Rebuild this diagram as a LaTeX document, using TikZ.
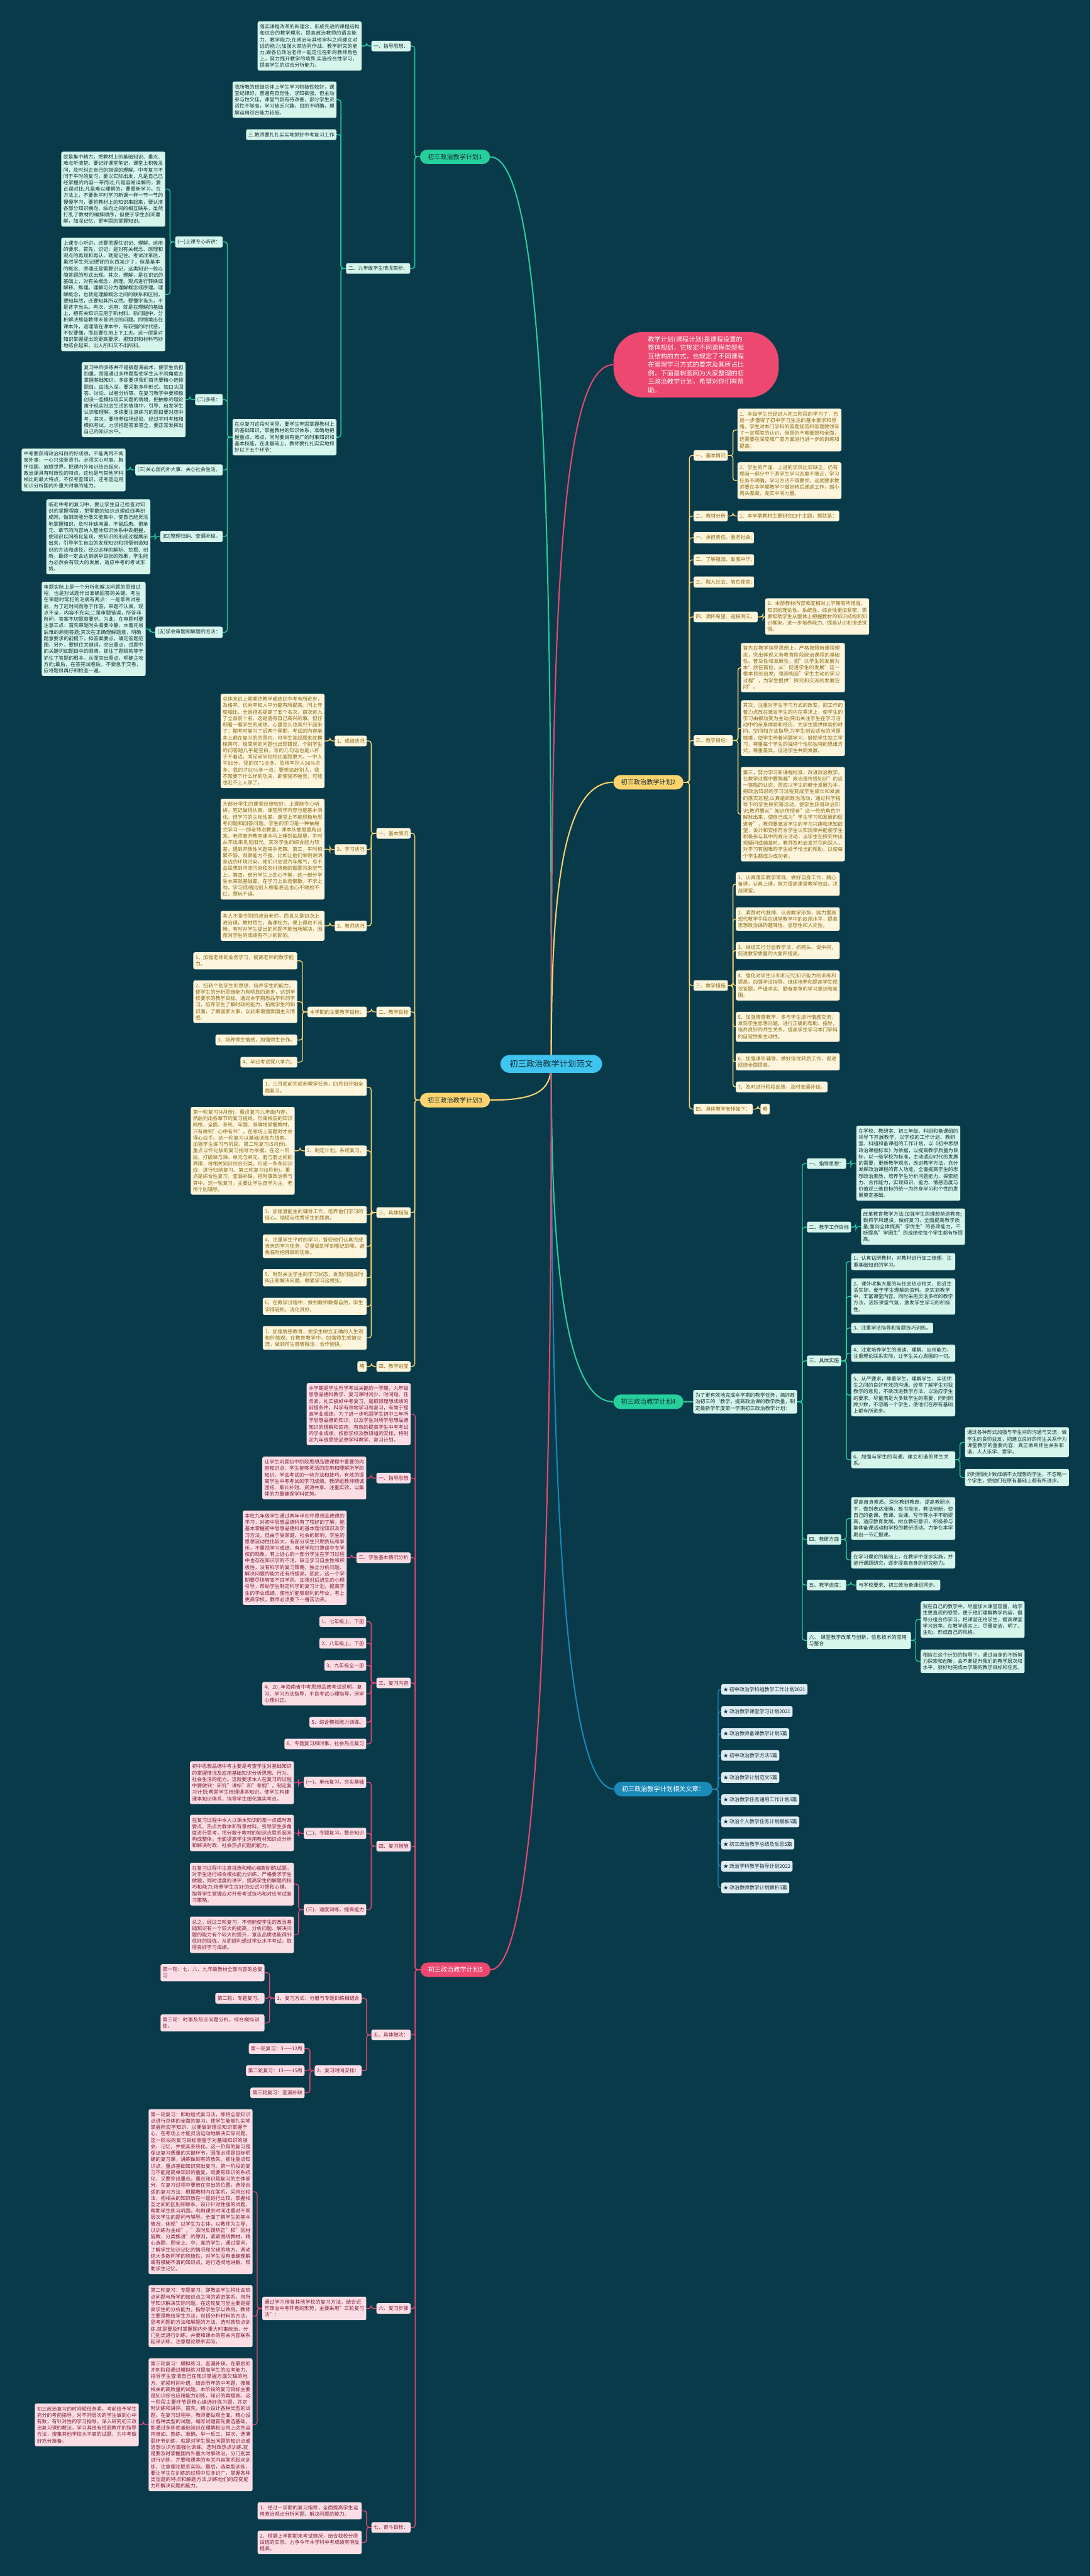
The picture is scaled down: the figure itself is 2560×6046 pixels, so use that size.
\documentclass[tikz,border=0pt]{standalone}
\usepackage{fontspec}
\setmainfont{Noto Sans CJK SC}
\XeTeXlinebreaklocale "zh"
\XeTeXlinebreakskip=0pt plus 1pt
\usepackage{tikz}
\usetikzlibrary{backgrounds}
\definecolor{bgc}{RGB}{8,58,74}
\definecolor{skyc}{RGB}{62,196,238}
\definecolor{tealc}{RGB}{38,208,155}
\definecolor{mintc}{RGB}{214,246,236}
\definecolor{goldc}{RGB}{252,211,110}
\definecolor{creamc}{RGB}{253,245,220}
\definecolor{brownc}{RGB}{140,104,20}
\definecolor{rosec}{RGB}{236,72,112}
\definecolor{blushc}{RGB}{251,222,229}
\definecolor{winec}{RGB}{128,28,56}
\definecolor{navyc}{RGB}{26,138,184}
\definecolor{frostc}{RGB}{222,236,243}
\definecolor{inkc}{RGB}{22,44,52}
\tikzset{
  rootnode/.style={fill=skyc, text=inkc, rounded corners=22pt, inner xsep=22pt, inner ysep=12pt, font=\fontsize{19.5}{23}\selectfont},
  mainnode/.style={rounded corners=17pt, inner xsep=18pt, inner ysep=9pt, minimum height=34pt, font=\fontsize{15}{18}\selectfont},
  tealmain/.style={mainnode, fill=tealc, text=inkc},
  goldmain/.style={mainnode, fill=goldc, text=inkc},
  rosemain/.style={mainnode, fill=rosec, text=white},
  navymain/.style={mainnode, fill=navyc, text=white},
  txtbox/.style={rounded corners=4pt, inner xsep=5pt, inner ysep=7pt, align=left, font=\fontsize{11.7}{15.1}\selectfont},
  mintbox/.style={txtbox, fill=mintc, text=inkc},
  creambox/.style={txtbox, fill=creamc, text=brownc},
  pinkbox/.style={txtbox, fill=blushc, text=winec},
  bluebox/.style={txtbox, fill=frostc, text=inkc},
  para/.style={text width=234pt},
  gline/.style={draw=tealc, line width=2pt, rounded corners=6pt},
  yline/.style={draw=goldc, line width=2pt, rounded corners=6pt},
  rline/.style={draw=rosec, line width=2pt, rounded corners=6pt},
  bline/.style={draw=navyc, line width=2pt, rounded corners=6pt}
}
\begin{document}
\begin{tikzpicture}
\useasboundingbox (0pt,0pt) rectangle (2560pt,-6046pt);
\node[rootnode] (r) at (1294pt,-2497pt) {初三政治教学计划范文};

\node[tealmain] (p1) at (1068pt,-368pt) {初三政治教学计划1};
\node[mintbox, anchor=east] (p1a) at (964pt,-108pt) {一、指导思想：};
\node[mintbox, para, anchor=east] (p1a1) at (849pt,-108pt) {落实课程改革的新理念，形成先进的课程结构和综合的教学理念，提高政治教师的语言能力、教学能力;在政治与其他学科之间建立对话的能力;加强大家协同作战、教学研究的能力;跟各位政治老师一起定位在新的教师角色上，努力提升教学的境界;实施综合性学习，提高学生的综合分析能力。};
\node[mintbox, anchor=east] (p1b) at (963pt,-630pt) {二、九年级学生情况简析：};
\node[mintbox, para, anchor=east] (p1b1) at (790pt,-234pt) {我所教的班级总体上学生学习积极性较好，课堂纪律好，普遍有自觉性，求知欲强，但主动参与性欠佳，课堂气氛有待改善，部分学生灵活性不够高，学习缺乏兴趣，目的不明确，理解运用综合能力较低。};
\node[mintbox, anchor=east] (p1b2) at (790pt,-316pt) {三.教师要扎扎实实地抓好中考复习工作};
\node[mintbox, para, anchor=east] (p1b3) at (790pt,-1026pt) {在总复习这段时间里，要学生牢固掌握教材上的基础知识，掌握教材的知识体系，准确地把握重点、难点，同时要具有更广的时事知识和基本技能，在此基础上，教师要扎扎实实地抓好以下五个环节：};
\node[mintbox, anchor=east] (p1c1) at (523pt,-568pt) {(一)上课专心听讲：};
\node[mintbox, para, anchor=east] (p1c1a) at (388pt,-444pt) {就是集中精力，把教材上的基础知识、重点、难点听清楚。要记好课堂笔记，课堂上积极发问，及时纠正自己的错误的理解。中考复习不同于平时的复习，要以实际出发，凡是自己已经掌握的内容一带而过;凡是容易误解的，要正误对比;凡是难以理解的，要重新学习。在方法上，不要象平时学习新课一样一节一节的慢慢学习，要将教材上的知识串起来，要认清各部分知识横向、纵向之间的相互联系，虽然打乱了教材的编排顺序，但便于学生加深理解，加深记忆，更牢固的掌握知识。};
\node[mintbox, para, anchor=east] (p1c1b) at (388pt,-691pt) {上课专心听讲，还要把握住识记、理解、运用的要求。首先，识记：是对有关概念、原理和观点的再现和再认，就是记住。考试改革后，虽然学生死记硬背的东西减少了，但是基本的概念、原理还是需要识记，这类知识一般以简答题的形式出现。其次，理解，是在识记的基础上，对有关概念、原理、观点进行转换或解释、推理。理解可分为理解概念或原理。理解概念，也就是理解概念之间的联系和区别，要知其然，还要知其所以然。要懂字当头，不是背字当头。再次，运用：就是在理解的基础上，把有关知识应用于新材料、新问题中，分析解决那些教师未曾讲过的问题。即情境出在课本外，道理落在课本中，有较强的时代感，不仅要懂，而且要在用上下工夫。这一层是对知识掌握提出的更高要求，把知识和材料巧妙地结合起来，出人所料又不出所料。};
\node[mintbox, anchor=east] (p1c2) at (523pt,-938pt) {(二)多练：};
\node[mintbox, para, anchor=east] (p1c2a) at (436pt,-938pt) {复习中的多练并不是搞题海战术，使学生负担加重，而是通过多种题型使学生从不同角度去掌握基础知识。多练要求我们首先要精心选择题目，由浅入深，要采取多种形式，如口头回答、讨论、试卷分析等。在复习教学中要积极创设一些模拟现实问题的情境，把抽象的理论寓于现实社会生活的情境中，引导、启发学生认识和理解。多练要注意练习的题目要对应中考，其次，要培养临场经验，经过平时考核和模拟考试，力求把题答准答全，要正常发挥出自己的知识水平。};
\node[mintbox, anchor=east] (p1c3) at (523pt,-1103pt) {(三)关心国内外大事、关心社会生活。};
\node[mintbox, para, anchor=east] (p1c3a) at (295pt,-1103pt) {中考要获得政治科目的好成绩，不能两耳不闻窗外事，一心只读圣贤书，必须关心时事，胸怀祖国，放眼世界，把课内外知识结合起来，政治课具有时政性的特点，这也是与其他学科相比的最大特点，不仅考查知识，还考查运用知识分析国内外重大时事的能力。};
\node[mintbox, anchor=east] (p1c4) at (523pt,-1259pt) {(四)整理归纳、查漏补缺。};
\node[mintbox, para, anchor=east] (p1c4a) at (353pt,-1260pt) {临近中考的复习中，要让学生自己检查对知识的掌握程度，把零散的知识点理成线再织成网，做到既能分散又能集中，使自己能灵活地掌握知识，及时补缺堵漏，不留后患。把单元、章节的内容纳入整体知识体系中去把握，使知识以网络化呈现，把知识的形成过程展示出来，引导学生自由的发现知识和领悟创造知识的方法和途径。经过这样的解析、挖掘、创新，最终一定会达到纲举目张的效果，学生能力必然会有较大的发展，适应中考的考试形势。};
\node[mintbox, anchor=east] (p1c5) at (523pt,-1484pt) {(五)学会审题和解题的方法：};
\node[mintbox, para, anchor=east] (p1c5a) at (342pt,-1476pt) {审题实际上是一个分析和解决问题的思维过程，也是对试题作出准确回答的关键。考生在审题时常犯的毛病有两点：一是拿到试卷后，为了赶时间而急于作答，审题不认真，观点不全，内容不充实;二是审题错误，所答非所问，答案不切题意要求。为此，在审题时要注意三点：首先审题时头脑要冷静，本着先易后难的原则答题;其次在正确理解题意，明确题意要求的前提下，拟答案要点，确定答题范围，另外，要抓住关键词，突出重点，试题中的关键词如题目中的眼睛，抓住了题眼就等于抓住了答题的根本，从而突出重点，明确主攻方向;最后，在答完试卷后，不要急于交卷，应将题目再仔细检查一遍。};

\node[fill=rosec, text=white, rounded corners=70pt, inner xsep=81pt, inner ysep=10pt, text width=226pt, align=left, font=\fontsize{15}{20}\selectfont] (intro) at (1634pt,-856pt) {教学计划(课程计划)是课程设置的整体规划，它规定不同课程类型相互结构的方式，也规定了不同课程在管理学习方式的要求及其所占比例，下面是树图网为大家整理的初三政治教学计划，希望对你们有帮助。};

\node[goldmain] (p2) at (1522pt,-1836pt) {初三政治教学计划2};
\node[creambox, anchor=west] (p2a) at (1628pt,-1069pt) {一、基本情况};
\node[creambox, para, anchor=west] (p2a1) at (1731pt,-1009pt) {1、本级学生已经进入初三阶段的学习了，已进一步懂得了初中学习生活的基本要求和思路，学生对本门学科的答题规范和答题要领有了一定程度的认识，但是仍不够细致和全面，还需要在深度和广度方面进行进一步的训练和提高。};
\node[creambox, para, anchor=west] (p2a2) at (1731pt,-1128pt) {2、学生的严谨、上进的学风比较缺乏，仍有相当一部分中下游学生学习态度不端正，学习任务不明确，学习方法不得要领，这就要求教师要在本学期教学中做好转后递进工作，缩小两头差距，充实中间力量。};
\node[creambox, anchor=west] (p2b) at (1628pt,-1211pt) {二、教材分析};
\node[creambox, anchor=west] (p2b1) at (1731pt,-1211pt) {1、本学期教材主要研究四个主题，那就是：};
\node[creambox, anchor=west] (p2c) at (1628pt,-1262pt) {一、承担责任、服务社会;};
\node[creambox, anchor=west] (p2d) at (1628pt,-1314pt) {二、了解祖国、爱我中华;};
\node[creambox, anchor=west] (p2e) at (1628pt,-1366pt) {三、融入社会、肩负使命;};
\node[creambox, anchor=west] (p2f) at (1628pt,-1448pt) {四、满怀希望、迎接明天。};
\node[creambox, para, anchor=west] (p2f1) at (1796pt,-1447pt) {2、本册教材内容难度相对上学期有所增强，知识的理论性、系统性、综合性更加紧密，需要帮助学生从整体上把握教材的知识结构和知识框架，进一步培养能力、提高认识和渗透觉悟。};
\node[creambox, anchor=west] (p2g) at (1628pt,-1738pt) {三、教学目标：};
\node[creambox, para, anchor=west] (p2g1) at (1739pt,-1567pt) {首先在教学指导思想上，严格按照新课程理念，突出体现义务教育阶段政治课程的基础性、普及性和发展性，把"以学生的发展为本"放在首位，从"促进学生的发展"这一根本目的出发，强调构造"学生主动的学习过程"，为学生提供"探究和交流的发展空间"。};
\node[creambox, para, anchor=west] (p2g2) at (1739pt,-1709pt) {其次，注重对学生学习方式的改变。把工作的着力点放在激发学生的内在需求上，使学生的学习由被动变为主动;突出关注学生在学习活动中的亲身体验和经历，为学生提供体验的时间、空间和方法指导;为学生创设适当的问题情境，使学生带着问题学习，鼓励学生独立学习，尊重每个学生的独特个性和独特的思维方式，尊重差异，促进学生共同发展。};
\node[creambox, para, anchor=west] (p2g3) at (1739pt,-1911pt) {第三，努力学习新课程标准，改进政治教学。在教学过程中要跨越"政治是传授知识"的这一狭隘的认识，而应以学生的健全发展为本，把政治知识的学习过程变成学生成长和发展的落实过程;认真组织政治活动，通过科学指导下的学生探究等活动，使学生获得政治知识;教师要从"知识传授者"这一传统角色中解放出来，使自己成为"学生学习和发展的促进者"，教师要激发学生的学习兴趣和求知欲望，设计和安排符合学生认知规律并能使学生积极参与其中的政治活动，当学生在探究中出现疑问或偏差时，教师及时启发并引向深入，对学习有困难的学生给予恰当的帮助，以使每个学生都成为成功者。};
\node[creambox, anchor=west] (p2h) at (1628pt,-2313pt) {三、教学措施};
\node[creambox, para, anchor=west] (p2h1) at (1727pt,-2075pt) {1、认真落实教学常规，做好自身工作，精心备课，认真上课，努力提高课堂教学效益，决战课堂。};
\node[creambox, para, anchor=west] (p2h2) at (1727pt,-2157pt) {2、紧跟时代脉搏，认清教学形势，努力提高现代教学手段在课堂教学中的应用水平，提高思想政治课的趣味性、思想性和人文性。};
\node[creambox, para, anchor=west] (p2h3) at (1727pt,-2231pt) {3、继续实行分层教学法，抓两头、促中间，促进教学质量的大面积提高。};
\node[creambox, para, anchor=west] (p2h4) at (1727pt,-2313pt) {4、强化对学生认知和记忆知识能力的训练和提高，加强学法指导，继续培养和提高学生规范答题，严谨求实、勤奋竞争的学习意识和氛围。};
\node[creambox, para, anchor=west] (p2h5) at (1727pt,-2410pt) {5、加强情感教学，多与学生进行情感交流，发现学生思想问题，进行正确的帮助、指导，培养良好的师生关系，提高学生学习本门学科的自觉性和主动性。};
\node[creambox, para, anchor=west] (p2h6) at (1727pt,-2492pt) {6、加强课外辅导，做好培优转后工作，促进成绩全面提高。};
\node[creambox, anchor=west] (p2h7) at (1727pt,-2551pt) {7、及时进行阶段反馈，及时查漏补缺。};
\node[creambox, anchor=west] (p2i) at (1628pt,-2603pt) {四、具体教学安排如下：};
\node[creambox, anchor=west] (p2i1) at (1785pt,-2603pt) {略};

\node[goldmain] (p3) at (1068pt,-2582pt) {初三政治教学计划3};
\node[creambox, anchor=east] (p3a) at (964pt,-1956pt) {一、基本情况};
\node[creambox, anchor=east] (p3a1) at (861pt,-1739pt) {1、成绩状况};
\node[creambox, para, anchor=east] (p3a1a) at (762pt,-1739pt) {总体来说上期期终教学成绩比中考有所进步，及格率、优秀率和人平分都有所提高。同上年度相比，全县排名提高了五个名次，首次进入了全县前十名，这是值得自己高兴的事。但仔细看一看学生的成绩，心里怎么也高兴不起来了：期考时复习了近两个星期，考试的内容基本上都在复习的范围内，可学生答起题来就模棱两可，极简单的问题也出现错误，个别学生的问答题几乎是空白，写的几句话也是八杆子不着边。同兄弟学校相比差距更大。一中人平86分，我的仅71点多，及格率别人96\%点多，我的才80\%多一点，要想追赶别人，我不知要下什么样的功夫，即使我不睡觉，可能也赶不上人家了。};
\node[creambox, anchor=east] (p3a2) at (861pt,-1994pt) {2、学习状况};
\node[creambox, para, anchor=east] (p3a2a) at (762pt,-1993pt) {大部分学生的课堂纪律较好，上课能专心听讲，笔记做得认真，课堂所学内容也能基本消化。但学习的主动性差，课堂上不能积极地思考问题和回答问题。学生的学习是一种抽屉式学习——即老师进教室，课本从抽屉里爬出来，老师离开教室课本马上睡到抽屉里，平时从不出来见见阳光。其次学生的综合能力较差，遇到开放性问题束手无策。第三，平时积累不够，观察能力不强，比如让他们举例说明身边的环境污染，他们只会说汽车尾气，总不会联想到河流污染和农村烧柴的烟雾污染空气上。第四，部分学生上劲心不够，这一部分学生本来就基础差，在学习上反而懒散，不求上劲，学习成绩比别人相差甚远也心不跳脸不红，照玩不误。};
\node[creambox, anchor=east] (p3a3) at (861pt,-2173pt) {3、教师状况};
\node[creambox, para, anchor=east] (p3a3a) at (762pt,-2173pt) {本人不是专职的政治老师，而且又是初次上政治课，教材陌生，备课吃力，课上得也不流畅，有时对学生提出的问题不能当场解决，因而对学生的成绩有不少的影响。};
\node[creambox, anchor=east] (p3b) at (964pt,-2375pt) {二、教学目标};
\node[creambox, anchor=east] (p3b1) at (861pt,-2375pt) {本学期的主要教学目标：};
\node[creambox, para, anchor=east] (p3b1a) at (698pt,-2255pt) {1、加强老师的业务学习，提高老师的教学能力。};
\node[creambox, para, anchor=east] (p3b1b) at (698pt,-2351pt) {2、扭转个别学生的思想，培养学生的能力，使学生的分析思维能力有明显的进步，达到学校要求的教学目标。通过本学期思品学科的学习，培养学生了解时政的能力，拓展学生的知识面，了解国家大事，以此来增强爱国主义情感。};
\node[creambox, anchor=east] (p3b1c) at (698pt,-2441pt) {3、培养师生情感，加强师生合作。};
\node[creambox, anchor=east] (p3b1d) at (698pt,-2493pt) {4、毕业考试保八争六。};
\node[creambox, anchor=east] (p3c) at (964pt,-2846pt) {三、具体措施};
\node[creambox, para, anchor=east] (p3c1) at (861pt,-2552pt) {1、三月底前完成新教学任务，四月初开始全面复习。};
\node[creambox, anchor=east] (p3c2) at (861pt,-2701pt) {2、制定计划，系统复习。};
\node[creambox, para, anchor=east] (p3c2a) at (692pt,-2701pt) {第一轮复习(4月份)。重点复习九年级内容，然后列出各章节的复习提纲，形成相应的知识网络，全面、系统、牢固、准确地掌握教材，只有做到"心中有书"，在考场上答题时才会得心应手。这一轮复习以基础训练为线索，加强学生练习与巩固。第二轮复习(5月份)。重点以怀化版的复习指导为依据，在这一阶段，打破课与课、单元与单元、册与册之间的界限，将相关知识综合归类，形成一条条知识线，进行归纳复习。第三轮复习(6月份)。重点是综合性复习，查漏补缺，把时事政治参与其中。这一轮复习，主要让学生自学为主，老师个别辅导。};
\node[creambox, para, anchor=east] (p3c3) at (861pt,-2851pt) {3、加强潜能生的辅导工作，培养他们学习的信心，缩短与优秀学生的距离。};
\node[creambox, para, anchor=east] (p3c4) at (861pt,-2925pt) {4、注重学生平时的学习，督促他们认真完成当天的学习任务，尽量做到学到哪记到哪，避免临时抱佛脚的现象。};
\node[creambox, para, anchor=east] (p3c5) at (861pt,-2999pt) {5、时刻关注学生的学习状态，发现问题及时纠正和解决问题，绷紧学习这根弦。};
\node[creambox, para, anchor=east] (p3c6) at (861pt,-3066pt) {6、在教学过程中，做到教师教得自然，学生学得轻松，消化良好。};
\node[creambox, para, anchor=east] (p3c7) at (861pt,-3140pt) {7、加强情感教育，使学生树立正确的人生观和价值观。在教育教学中，加强师生感情交流，做到师生感情融洽，合作愉快。};
\node[creambox, anchor=east] (p3d) at (964pt,-3207pt) {四、教学进度};
\node[creambox, anchor=east] (p3d1) at (861pt,-3207pt) {略};

\node[tealmain] (p4) at (1522pt,-3290pt) {初三政治教学计划4};
\node[mintbox, para, anchor=west] (p4i) at (1627pt,-3290pt) {为了更有效地完成本学期的教学任务，搞好政治初三的\symbol{96}教学，提高政治课的教学质量，制定最新学年度第一学期初三政治教学计划：};
\node[mintbox, anchor=west] (p4a) at (1894pt,-2731pt) {一、指导思想：};
\node[mintbox, para, anchor=west] (p4a1) at (2010pt,-2730pt) {在学校、教研室、初三年级、科组和备课组的领导下开展教学，以学校的工作计划、教研室、科组和备课组的工作计划，以《初中思想政治课程标准》为依据，以提高教学质量为目标，以一级学校为标准，主动适应时代的发展的需要，更新教学观念，改进教学方法，充分发挥政治课程的育人功能，全面提高学生的思想政治素质，培养学生分析问题能力、探索能力、合作能力，实现知识、能力、情感态度与价值观三维目标的统一为终身学习和个性的发展奠定基础。};
\node[mintbox, anchor=west] (p4b) at (1894pt,-2880pt) {二、教学工作目标};
\node[mintbox, para, anchor=west] (p4b1) at (2021pt,-2879pt) {改革教育教学方法;加强学生的理想前途教育;狠抓学风建设，做好复习，全面提高教学质量;面向全体提高"学优生"的各项能力，不断提高"学困生"的成绩使每个学生都有所提高。};
\node[mintbox, anchor=west] (p4c) at (1894pt,-3194pt) {三、具体实施};
\node[mintbox, para, anchor=west] (p4c1) at (1998pt,-2961pt) {1、认真钻研教材，对教材进行加工梳理，注重基础知识的学习。};
\node[mintbox, para, anchor=west] (p4c2) at (1998pt,-3043pt) {2、课外收集大量的与社会热点相关、贴近生活实际、便于学生理解的资料。充实到教学中，丰富课堂内容。同时采用灵活多样的教学方法，活跃课堂气氛，激发学生学习的积极性。};
\node[mintbox, anchor=west] (p4c3) at (1998pt,-3117pt) {3、注重学法指导和答题技巧训练。};
\node[mintbox, para, anchor=west] (p4c4) at (1998pt,-3176pt) {4、注意培养学生的阅读、理解、应用能力，注重理论联系实际，让学生关心周围的一切。};
\node[mintbox, para, anchor=west] (p4c5) at (1998pt,-3274pt) {5、从严要求，尊重学生，理解学生，实现师生之间的良好有效的沟通。经常了解学生对我教学的意见，不断改进教学方法，以适应学生的要求。尽量满足大多数学生的需要，同时照顾少数，不忽略一个学生，使他们在原有基础上都有所进步。};
\node[mintbox, para, anchor=west] (p4c6) at (1998pt,-3426pt) {6、加强与学生的沟通，建立和谐的师生关系。};
\node[mintbox, para, anchor=west] (p4c6a) at (2265pt,-3385pt) {通过各种形式加强与学生间的沟通与交流，做学生的良师益友，把建立良好的师生关系作为课堂教学的重要内容，真正做到师生关系和谐，人人乐学、爱学。};
\node[mintbox, para, anchor=west] (p4c6b) at (2265pt,-3468pt) {同时照顾少数成绩不太理想的学生，不忽略一个学生，使他们在原有基础上都有所进步。};
\node[mintbox, anchor=west] (p4d) at (1894pt,-3613pt) {四、教研方面};
\node[mintbox, para, anchor=west] (p4d1) at (1998pt,-3564pt) {提高自身素质。深化教研教改，提高教研水平，做到表达准确，板书简洁，教法创新，使自己的备课、教课、说课、写作等水平不断提高，适应教育发展。树立教研意识，积极参与集体备课活动和学校的教研活动。力争在本学期出一节汇报课。};
\node[mintbox, para, anchor=west] (p4d2) at (1998pt,-3661pt) {在学习理论的基础上，在教学中逐步实施，并进行课题研究，逐步提高自身的研究能力。};
\node[mintbox, anchor=west] (p4e) at (1894pt,-3720pt) {五、教学进度：};
\node[mintbox, anchor=west] (p4e1) at (2010pt,-3720pt) {与学校要求、初三政治备课组同步。};
\node[mintbox, para, anchor=west] (p4f) at (1894pt,-3850pt) {六、 课堂教学改革与创新，信息技术的应用与整合};
\node[mintbox, para, anchor=west] (p4f1) at (2161pt,-3801pt) {我在自己的教学中，尽量加大课堂容量，给学生更直观的感受，便于他们理解教学内容，倡导分组合作学习，把课堂还给学生，提高课堂学习效率。在教学语言上、尽量简洁、明了、生动，形成自己的风格。};
\node[mintbox, para, anchor=west] (p4f2) at (2161pt,-3899pt) {相信在这个计划的指导下，通过自身的不断努力探索和创新，会不断提升我们的教学层次和水平，很好地完成本学期的教学目标和任务。};

\node[navymain] (rel) at (1557pt,-4199pt) {初三政治教学计划相关文章：};
\node[bluebox, anchor=west] (rel1) at (1693pt,-3965pt) {★ 初中政治学科组教学工作计划2021};
\node[bluebox, anchor=west] (rel2) at (1693pt,-4017pt) {★ 政治教学课堂学习计划2021};
\node[bluebox, anchor=west] (rel3) at (1693pt,-4069pt) {★ 政治教师备课教学计划5篇};
\node[bluebox, anchor=west] (rel4) at (1693pt,-4120pt) {★ 初中政治教学方法5篇};
\node[bluebox, anchor=west] (rel5) at (1693pt,-4172pt) {★ 政治教学计划范文5篇};
\node[bluebox, anchor=west] (rel6) at (1693pt,-4224pt) {★ 政治教学任务通用工作计划5篇};
\node[bluebox, anchor=west] (rel7) at (1693pt,-4276pt) {★ 政治个人教学任务计划模板5篇};
\node[bluebox, anchor=west] (rel8) at (1693pt,-4328pt) {★ 初三政治教学总结及反思5篇};
\node[bluebox, anchor=west] (rel9) at (1693pt,-4380pt) {★ 政治学科教学指导计划2022};
\node[bluebox, anchor=west] (rel10) at (1693pt,-4431pt) {★ 政治教师教学计划解析5篇};

\node[rosemain] (p5) at (1069pt,-4623pt) {初三政治教学计划5};
\node[pinkbox, para, anchor=east] (p5i) at (964pt,-3319pt) {本学期是学生升学考试关键的一学期，九年级思想品德科教学、复习课时间少、时间短、任务紧。扎实搞好中考复习，是取得理想成绩的前提条件，科学有效地学习和复习，有助于提高学业成绩。为了进一步巩固学生初中三年所学思想品德的知识，以及学生对所学思想品德知识的理解和应用，有效的提高学生中考考试的学业成绩，按照学校及教研组的安排，特制定九年级思想品德学科教学、复习计划。};
\node[pinkbox, anchor=east] (p5a) at (964pt,-3469pt) {一、指导思想};
\node[pinkbox, para, anchor=east] (p5a1) at (860pt,-3469pt) {让学生巩固初中阶段思想品德课程中重要的内容知识点，学生能够灵活的应用和理解所学的知识，学会考试的一些方法和技巧，有效的提高学生中考考试的学习成绩。教研组教师精诚团结、取长补短、资源共享、注重实效，以集体的力量确保学科优势。};
\node[pinkbox, anchor=east] (p5b) at (964pt,-3656pt) {二、学生基本情况分析};
\node[pinkbox, para, anchor=east] (p5b1) at (814pt,-3656pt) {本校九年级学生通过两年半初中思想品德课的学习，对初中思想品德科有了较好的了解，能基本掌握初中思想品德科的基本理论知识及学习方法。但由于受家庭、社会的影响，学生的思想波动性比较大，有部分学生只顾贪玩和享乐，不重视学习成绩，有厌学和打算读中专学校的现象。有上进心的一部分学生在学习过程中也存在知识学的不活，缺乏学习自主性和积极性，没有科学的复习策略，独立分析问题、解决问题的能力还有待提高。因此，这一个学期要尽快转变不良学风，加强对后进生的心理引导，帮助学生制定科学的复习计划，提高学生的学业成绩，使他们能够顺利的毕业，考上更高学校，教师必须要下一番苦功夫。};
\node[pinkbox, anchor=east] (p5c) at (964pt,-3950pt) {三、复习内容};
\node[pinkbox, anchor=east] (p5c1) at (860pt,-3806pt) {1、七年级上、下册};
\node[pinkbox, anchor=east] (p5c2) at (860pt,-3857pt) {2、八年级上、下册};
\node[pinkbox, anchor=east] (p5c3) at (860pt,-3909pt) {3、九年级全一册};
\node[pinkbox, para, anchor=east] (p5c4) at (860pt,-3975pt) {4、20\_年海南省中考思想品德考试说明，复习、学习方法指导，不良考试心理指导，厌学心理纠正。};
\node[pinkbox, anchor=east] (p5c5) at (860pt,-4042pt) {5、综合模拟能力训练。};
\node[pinkbox, anchor=east] (p5c6) at (860pt,-4093pt) {6、专题复习和时事、社会热点复习};
\node[pinkbox, anchor=east] (p5d) at (964pt,-4333pt) {四、复习措施};
\node[pinkbox, anchor=east] (p5d1) at (860pt,-4183pt) {(一)、单元复习，夯实基础};
\node[pinkbox, para, anchor=east] (p5d1a) at (690pt,-4184pt) {初中思想品德中考主要是考查学生对基础知识的掌握情况及应用基础知识分析思想、行为、社会生活的能力。这就要求本人在复习的过程中要做到：研究"课标"和"考纲"，制定复习计划;帮助学生梳理课本知识，使学生构建课本知识体系，指导学生细化落实考点。};
\node[pinkbox, anchor=east] (p5d2) at (860pt,-4303pt) {(二)、专题复习，整合知识};
\node[pinkbox, para, anchor=east] (p5d2a) at (690pt,-4302pt) {在复习过程中本人以课本知识的某一点或时政要点、热点为载体和背景材料，引导学生多角度进行思考，把分散于教材的知识点联系起来构成整体，全面提高学生运用教材知识点分析和解决时政、社会热点问题的能力。};
\node[pinkbox, anchor=east] (p5d3) at (860pt,-4482pt) {(三)、适度训练，提高能力};
\node[pinkbox, para, anchor=east] (p5d3a) at (690pt,-4422pt) {在复习过程中注意挑选和精心编制训练试题，对学生进行综合模拟能力训练，严格要求学生做题，同时适度的讲评，提高学生的解题的技巧和能力;培养学生良好的应试习惯和心理，指导学生掌握应对开卷考试技巧和对应考试复习策略。};
\node[pinkbox, para, anchor=east] (p5d3b) at (690pt,-4541pt) {总之，经过三轮复习，不但能使学生的政治基础知识有一个较大的提高，分析问题、解决问题的能力有个较大的提升，意志品质也能得到很好的锻炼，从而顺利通过学业水平考试，取得良好学习成绩。};
\node[pinkbox, anchor=east] (p5e) at (964pt,-4776pt) {五、具体做法：};
\node[pinkbox, anchor=east] (p5e1) at (849pt,-4690pt) {1、复习方式：分册与专题训练相结合};
\node[pinkbox, para, anchor=east] (p5e1a) at (621pt,-4630pt) {第一轮：七、八、九年级教材全部内容的总复习};
\node[pinkbox, anchor=east] (p5e1b) at (621pt,-4690pt) {第二轮：专题复习。};
\node[pinkbox, para, anchor=east] (p5e1c) at (621pt,-4748pt) {第三轮：时事及热点问题分析，综合模拟训练。};
\node[pinkbox, anchor=east] (p5e2) at (849pt,-4860pt) {2、复习时间安排：};
\node[pinkbox, anchor=east] (p5e2a) at (715pt,-4808pt) {第一轮复习：3——12周};
\node[pinkbox, anchor=east] (p5e2b) at (715pt,-4860pt) {第二轮复习：13——15周};
\node[pinkbox, anchor=east] (p5e2c) at (715pt,-4912pt) {第三轮复习：查漏补缺};
\node[pinkbox, anchor=east] (p5f) at (964pt,-5418pt) {六、复习步骤};
\node[pinkbox, para, anchor=east] (p5f1) at (860pt,-5418pt) {通过学习借鉴其他学校的复习方法，结合近年政治中考开卷的形势，主要采用"三轮复习法"：};
\node[pinkbox, para, anchor=east] (p5f1a) at (593pt,-5144pt) {第一轮复习：即地毯式复习法，即将全部知识点进行总体的全面的复习，使学生能够扎实地掌握所应学知识，以便做到理论知识掌握于心，在考场上才能灵活运动地解决实际问题。这一阶段的复习目标侧重于对基础知识的领会、记忆，并使其系统化。这一阶段的复习是保证复习质量的关键环节，因而必须是目标明确的复习课，讲练做到有的放矢。抓住重点知识点，重点基础知识突出复习。第一阶段的复习不能是简单知识的重复，既要有知识的系统化，又要突出重点。重点知识是复习的主体部分，在复习过程中要放在突出的位置。选择合适的复习方法：根据教材内在联系，采用比较法，把相关的知识放在一起进行比较，掌握相互之间的区别和联系。设计针对性强的试题，帮助学生练习巩固，利用课余时间注重对不同层次学生的提问与辅导。全面了解学生的基本情况，体现"以学生为主体，以教师为主导，以训练为主线"，"及时反馈矫正"和"因材施教，分类推进"的原则，紧紧围绕教材，精心选题，顾全上、中、差的学生。通过提问，了解学生知识记忆的情况和欠缺的地方，调动绝大多数同学的积极性，对学生没有准确理解或有模糊不清的知识点，进行透彻地讲解，帮助学生记忆。};
\node[pinkbox, para, anchor=east] (p5f1b) at (593pt,-5436pt) {第二轮复习：专题复习。即教会学生将社会热点问题与所学的知识点之间的紧密联系，用所学知识解决实际问题。在这轮复习里主要是提高学生的分析能力，指导学生学以致用。教师主要是教给学生方法，包括分析材料的方法，思考问题的方法和解题的方法。选时政热点训练.就是要及时掌握国内外重大时事政治，分门别类进行训练，并要和课本的有关内容联系起来训练，注意理论联系实际。};
\node[pinkbox, para, anchor=east] (p5f1c) at (593pt,-5691pt) {第三轮复习：模拟练习、查漏补缺。在最后的冲刺阶段通过模拟练习提高学生的应考能力，指导学生查清自己在知识掌握方面欠缺的地方，抓紧时间补遗。结合历年的中考题，搜集相关的高质量的试题。本阶段的复习目标主要是知识综合应用能力训练，知识的再提高。这一阶段主要环节是精心编选好练习题，并定时训练和讲评。首先，精心设计各种类型的试题。在复习过程中，教师要纵观全面，精心设计各种类型的试题。编写试题首先要选基础，即通过多练使基础知识在理解和应用上达到运用自如、熟练、准确、举一反三。其次，选薄弱环节训练，就是对学生易出问题的知识点或思想认识方面强化训练。选时政热点训练.就是要及时掌握国内外重大时事政治，分门别类进行训练，并要和课本的有关内容联系起来训练，注意理论联系实际。最后，选类型训练，要让学生在训练的过程中见多识广，掌握各种类型题的特点和解题方法,训练他们的应变能力和解决问题的能力。};
\node[pinkbox, para, anchor=east] (p5f1c1) at (326pt,-5691pt) {初三政治复习的时间短任务紧，考前给予学生充分的考前指导，对不同层次的学生做到心中有数，有针对性的学习指导。深入研究初三政治复习课的教法，学习其他有经验教师的指导方法，搜集其他学校水平高的试题，为中考做好充分准备。};
\node[pinkbox, anchor=east] (p5g) at (964pt,-5932pt) {七、奋斗目标：};
\node[pinkbox, para, anchor=east] (p5g1) at (849pt,-5893pt) {1、经过一学期的复习指导，全面提高学生运用政治观点分析问题、解决问题的能力。};
\node[pinkbox, para, anchor=east] (p5g2) at (849pt,-5967pt) {2、根据上学期期末考试情况，结合我校分层设班的实际，力争今年本学科中考成绩有明显提高。};

\begin{scope}[on background layer]
\fill[bgc] (0pt,0pt) rectangle (2560pt,-6046pt);
\draw[gline, line width=3pt] (p1.east) .. controls (1290pt,-368pt) and (1294pt,-1400pt) .. (r.center);
\draw[rline, line width=3pt] (intro.west) .. controls (1310pt,-856pt) and (1294pt,-1500pt) .. (r.center);
\draw[yline, line width=3pt] (p2.west) .. controls (1310pt,-1836pt) and (1294pt,-2150pt) .. (r.center);
\draw[yline, line width=3pt] (p3.east) .. controls (1260pt,-2582pt) and (1294pt,-2560pt) .. (r.center);
\draw[gline, line width=3pt] (p4.west) .. controls (1310pt,-3290pt) and (1294pt,-2850pt) .. (r.center);
\draw[bline, line width=3pt] (rel.west) .. controls (1310pt,-4199pt) and (1294pt,-3300pt) .. (r.center);
\draw[rline, line width=3pt] (p5.east) .. controls (1280pt,-4623pt) and (1294pt,-3400pt) .. (r.center);

\draw[gline] (p1.west) -- ++(-12pt,0pt) |- (p1a.east);
\draw[gline] (p1.west) -- ++(-12pt,0pt) |- (p1b.east);
\draw[gline] (p1a.west) -- ++(-11pt,0pt) |- (p1a1.east);
\draw[gline] (p1b.west) -- ++(-12pt,0pt) |- (p1b1.east);
\draw[gline] (p1b.west) -- ++(-12pt,0pt) |- (p1b2.east);
\draw[gline] (p1b.west) -- ++(-12pt,0pt) |- (p1b3.east);
\draw[gline] (p1b3.west) -- ++(-12pt,0pt) |- (p1c1.east);
\draw[gline] (p1b3.west) -- ++(-12pt,0pt) |- (p1c2.east);
\draw[gline] (p1b3.west) -- ++(-12pt,0pt) |- (p1c3.east);
\draw[gline] (p1b3.west) -- ++(-12pt,0pt) |- (p1c4.east);
\draw[gline] (p1b3.west) -- ++(-12pt,0pt) |- (p1c5.east);
\draw[gline] (p1c1.west) -- ++(-12pt,0pt) |- (p1c1a.east);
\draw[gline] (p1c1.west) -- ++(-12pt,0pt) |- (p1c1b.east);
\draw[gline] (p1c2.west) -- ++(-12pt,0pt) |- (p1c2a.east);
\draw[gline] (p1c3.west) -- ++(-12pt,0pt) |- (p1c3a.east);
\draw[gline] (p1c4.west) -- ++(-12pt,0pt) |- (p1c4a.east);
\draw[gline] (p1c5.west) -- ++(-12pt,0pt) |- (p1c5a.east);

\draw[yline] (p2.east) -- ++(14pt,0pt) |- (p2a.west);
\draw[yline] (p2.east) -- ++(14pt,0pt) |- (p2b.west);
\draw[yline] (p2.east) -- ++(14pt,0pt) |- (p2c.west);
\draw[yline] (p2.east) -- ++(14pt,0pt) |- (p2d.west);
\draw[yline] (p2.east) -- ++(14pt,0pt) |- (p2e.west);
\draw[yline] (p2.east) -- ++(14pt,0pt) |- (p2f.west);
\draw[yline] (p2.east) -- ++(14pt,0pt) |- (p2g.west);
\draw[yline] (p2.east) -- ++(14pt,0pt) |- (p2h.west);
\draw[yline] (p2.east) -- ++(14pt,0pt) |- (p2i.west);
\draw[yline] (p2a.east) -- ++(12pt,0pt) |- (p2a1.west);
\draw[yline] (p2a.east) -- ++(12pt,0pt) |- (p2a2.west);
\draw[yline] (p2b.east) -- ++(12pt,0pt) |- (p2b1.west);
\draw[yline] (p2f.east) -- ++(12pt,0pt) |- (p2f1.west);
\draw[yline] (p2g.east) -- ++(12pt,0pt) |- (p2g1.west);
\draw[yline] (p2g.east) -- ++(12pt,0pt) |- (p2g2.west);
\draw[yline] (p2g.east) -- ++(12pt,0pt) |- (p2g3.west);
\draw[yline] (p2h.east) -- ++(12pt,0pt) |- (p2h1.west);
\draw[yline] (p2h.east) -- ++(12pt,0pt) |- (p2h2.west);
\draw[yline] (p2h.east) -- ++(12pt,0pt) |- (p2h3.west);
\draw[yline] (p2h.east) -- ++(12pt,0pt) |- (p2h4.west);
\draw[yline] (p2h.east) -- ++(12pt,0pt) |- (p2h5.west);
\draw[yline] (p2h.east) -- ++(12pt,0pt) |- (p2h6.west);
\draw[yline] (p2h.east) -- ++(12pt,0pt) |- (p2h7.west);
\draw[yline] (p2i.east) -- ++(12pt,0pt) |- (p2i1.west);

\draw[yline] (p3.west) -- ++(-12pt,0pt) |- (p3a.east);
\draw[yline] (p3.west) -- ++(-12pt,0pt) |- (p3b.east);
\draw[yline] (p3.west) -- ++(-12pt,0pt) |- (p3c.east);
\draw[yline] (p3.west) -- ++(-12pt,0pt) |- (p3d.east);
\draw[yline] (p3a.west) -- ++(-12pt,0pt) |- (p3a1.east);
\draw[yline] (p3a.west) -- ++(-12pt,0pt) |- (p3a2.east);
\draw[yline] (p3a.west) -- ++(-12pt,0pt) |- (p3a3.east);
\draw[yline] (p3a1.west) -- ++(-11pt,0pt) |- (p3a1a.east);
\draw[yline] (p3a2.west) -- ++(-11pt,0pt) |- (p3a2a.east);
\draw[yline] (p3a3.west) -- ++(-11pt,0pt) |- (p3a3a.east);
\draw[yline] (p3b.west) -- ++(-11pt,0pt) |- (p3b1.east);
\draw[yline] (p3b1.west) -- ++(-12pt,0pt) |- (p3b1a.east);
\draw[yline] (p3b1.west) -- ++(-12pt,0pt) |- (p3b1b.east);
\draw[yline] (p3b1.west) -- ++(-12pt,0pt) |- (p3b1c.east);
\draw[yline] (p3b1.west) -- ++(-12pt,0pt) |- (p3b1d.east);
\draw[yline] (p3c.west) -- ++(-12pt,0pt) |- (p3c1.east);
\draw[yline] (p3c.west) -- ++(-12pt,0pt) |- (p3c2.east);
\draw[yline] (p3c.west) -- ++(-12pt,0pt) |- (p3c3.east);
\draw[yline] (p3c.west) -- ++(-12pt,0pt) |- (p3c4.east);
\draw[yline] (p3c.west) -- ++(-12pt,0pt) |- (p3c5.east);
\draw[yline] (p3c.west) -- ++(-12pt,0pt) |- (p3c6.east);
\draw[yline] (p3c.west) -- ++(-12pt,0pt) |- (p3c7.east);
\draw[yline] (p3c2.west) -- ++(-11pt,0pt) |- (p3c2a.east);
\draw[yline] (p3d.west) -- ++(-11pt,0pt) |- (p3d1.east);

\draw[gline] (p4.east) -- (p4i.west);
\draw[gline] (p4i.east) -- ++(12pt,0pt) |- (p4a.west);
\draw[gline] (p4i.east) -- ++(12pt,0pt) |- (p4b.west);
\draw[gline] (p4i.east) -- ++(12pt,0pt) |- (p4c.west);
\draw[gline] (p4i.east) -- ++(12pt,0pt) |- (p4d.west);
\draw[gline] (p4i.east) -- ++(12pt,0pt) |- (p4e.west);
\draw[gline] (p4i.east) -- ++(12pt,0pt) |- (p4f.west);
\draw[gline] (p4a.east) -- ++(11pt,0pt) |- (p4a1.west);
\draw[gline] (p4b.east) -- ++(11pt,0pt) |- (p4b1.west);
\draw[gline] (p4c.east) -- ++(12pt,0pt) |- (p4c1.west);
\draw[gline] (p4c.east) -- ++(12pt,0pt) |- (p4c2.west);
\draw[gline] (p4c.east) -- ++(12pt,0pt) |- (p4c3.west);
\draw[gline] (p4c.east) -- ++(12pt,0pt) |- (p4c4.west);
\draw[gline] (p4c.east) -- ++(12pt,0pt) |- (p4c5.west);
\draw[gline] (p4c.east) -- ++(12pt,0pt) |- (p4c6.west);
\draw[gline] (p4c6.east) -- ++(11pt,0pt) |- (p4c6a.west);
\draw[gline] (p4c6.east) -- ++(11pt,0pt) |- (p4c6b.west);
\draw[gline] (p4d.east) -- ++(12pt,0pt) |- (p4d1.west);
\draw[gline] (p4d.east) -- ++(12pt,0pt) |- (p4d2.west);
\draw[gline] (p4e.east) -- ++(11pt,0pt) |- (p4e1.west);
\draw[gline] (p4f.east) -- ++(11pt,0pt) |- (p4f1.west);
\draw[gline] (p4f.east) -- ++(11pt,0pt) |- (p4f2.west);

\draw[bline] (rel.east) -- ++(13pt,0pt) |- (rel1.west);
\draw[bline] (rel.east) -- ++(13pt,0pt) |- (rel2.west);
\draw[bline] (rel.east) -- ++(13pt,0pt) |- (rel3.west);
\draw[bline] (rel.east) -- ++(13pt,0pt) |- (rel4.west);
\draw[bline] (rel.east) -- ++(13pt,0pt) |- (rel5.west);
\draw[bline] (rel.east) -- ++(13pt,0pt) |- (rel6.west);
\draw[bline] (rel.east) -- ++(13pt,0pt) |- (rel7.west);
\draw[bline] (rel.east) -- ++(13pt,0pt) |- (rel8.west);
\draw[bline] (rel.east) -- ++(13pt,0pt) |- (rel9.west);
\draw[bline] (rel.east) -- ++(13pt,0pt) |- (rel10.west);

\draw[rline] (p5.west) -- ++(-12pt,0pt) |- (p5i.east);
\draw[rline] (p5.west) -- ++(-12pt,0pt) |- (p5a.east);
\draw[rline] (p5.west) -- ++(-12pt,0pt) |- (p5b.east);
\draw[rline] (p5.west) -- ++(-12pt,0pt) |- (p5c.east);
\draw[rline] (p5.west) -- ++(-12pt,0pt) |- (p5d.east);
\draw[rline] (p5.west) -- ++(-12pt,0pt) |- (p5e.east);
\draw[rline] (p5.west) -- ++(-12pt,0pt) |- (p5f.east);
\draw[rline] (p5.west) -- ++(-12pt,0pt) |- (p5g.east);
\draw[rline] (p5a.west) -- ++(-12pt,0pt) |- (p5a1.east);
\draw[rline] (p5b.west) -- ++(-11pt,0pt) |- (p5b1.east);
\draw[rline] (p5c.west) -- ++(-12pt,0pt) |- (p5c1.east);
\draw[rline] (p5c.west) -- ++(-12pt,0pt) |- (p5c2.east);
\draw[rline] (p5c.west) -- ++(-12pt,0pt) |- (p5c3.east);
\draw[rline] (p5c.west) -- ++(-12pt,0pt) |- (p5c4.east);
\draw[rline] (p5c.west) -- ++(-12pt,0pt) |- (p5c5.east);
\draw[rline] (p5c.west) -- ++(-12pt,0pt) |- (p5c6.east);
\draw[rline] (p5d.west) -- ++(-12pt,0pt) |- (p5d1.east);
\draw[rline] (p5d.west) -- ++(-12pt,0pt) |- (p5d2.east);
\draw[rline] (p5d.west) -- ++(-12pt,0pt) |- (p5d3.east);
\draw[rline] (p5d1.west) -- ++(-12pt,0pt) |- (p5d1a.east);
\draw[rline] (p5d2.west) -- ++(-12pt,0pt) |- (p5d2a.east);
\draw[rline] (p5d3.west) -- ++(-12pt,0pt) |- (p5d3a.east);
\draw[rline] (p5d3.west) -- ++(-12pt,0pt) |- (p5d3b.east);
\draw[rline] (p5e.west) -- ++(-11pt,0pt) |- (p5e1.east);
\draw[rline] (p5e.west) -- ++(-11pt,0pt) |- (p5e2.east);
\draw[rline] (p5e1.west) -- ++(-12pt,0pt) |- (p5e1a.east);
\draw[rline] (p5e1.west) -- ++(-12pt,0pt) |- (p5e1b.east);
\draw[rline] (p5e1.west) -- ++(-12pt,0pt) |- (p5e1c.east);
\draw[rline] (p5e2.west) -- ++(-11pt,0pt) |- (p5e2a.east);
\draw[rline] (p5e2.west) -- ++(-11pt,0pt) |- (p5e2b.east);
\draw[rline] (p5e2.west) -- ++(-11pt,0pt) |- (p5e2c.east);
\draw[rline] (p5f.west) -- ++(-12pt,0pt) |- (p5f1.east);
\draw[rline] (p5f1.west) -- ++(-12pt,0pt) |- (p5f1a.east);
\draw[rline] (p5f1.west) -- ++(-12pt,0pt) |- (p5f1b.east);
\draw[rline] (p5f1.west) -- ++(-12pt,0pt) |- (p5f1c.east);
\draw[rline] (p5f1c.west) -- ++(-12pt,0pt) |- (p5f1c1.east);
\draw[rline] (p5g.west) -- ++(-11pt,0pt) |- (p5g1.east);
\draw[rline] (p5g.west) -- ++(-11pt,0pt) |- (p5g2.east);
\end{scope}
\end{tikzpicture}
\end{document}
